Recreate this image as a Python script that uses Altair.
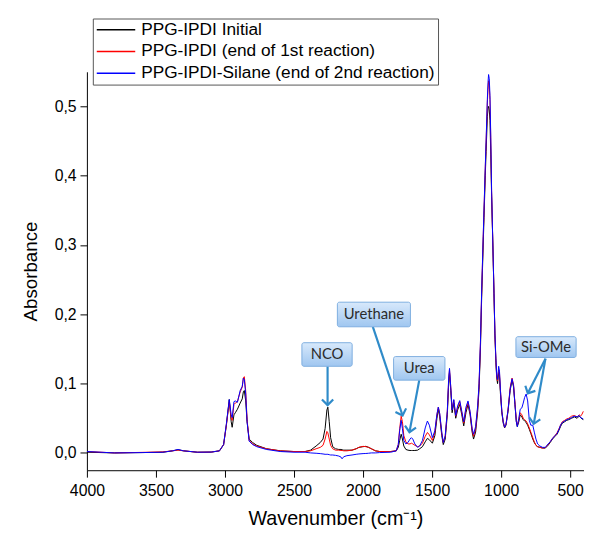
import math
import altair as alt
import pandas as pd

# ---------------- data ----------------
SERIES = ["PPG-IPDI Initial", "PPG-IPDI (end of 1st reaction)", "PPG-IPDI-Silane (end of 2nd reaction)"]
COLORS = ["#000000", "#ff0000", "#0000ff"]

WN = [4000, 3800, 3600, 3450, 3380, 3340, 3300, 3200, 3100, 3040, 3010, 2990, 2969, 2955, 2948, 2935,
      2925, 2910, 2890, 2875, 2867, 2860, 2850, 2840, 2825, 2800, 2770, 2700, 2600, 2500, 2420, 2380,
      2340, 2310, 2290, 2275, 2262, 2255, 2245, 2235, 2220, 2200, 2176, 2160, 2152, 2140, 2117, 2080,
      2050, 2030, 2000, 1980, 1960, 1940, 1910, 1880, 1800, 1760, 1745, 1735, 1724, 1715, 1705, 1690,
      1675, 1660, 1650, 1640, 1625, 1605, 1590, 1570, 1550, 1534, 1520, 1498, 1480, 1465, 1455, 1445,
      1430, 1419, 1405, 1390, 1380, 1374, 1365, 1355, 1343, 1329, 1315, 1300, 1285, 1271, 1255, 1240,
      1225, 1210, 1200, 1185, 1170, 1160, 1150, 1141, 1130, 1124, 1115, 1109, 1100, 1095, 1091, 1086,
      1081, 1075, 1069, 1060, 1052, 1045, 1038, 1032, 1026, 1018, 1012, 1005, 995, 985, 975, 965,
      950, 935, 921, 910, 900, 890, 883, 872, 862, 850, 840, 830, 819, 808, 796, 785,
      771, 760, 748, 736, 720, 700, 680, 660, 645, 628, 610, 595, 581, 570, 557, 540,
      525, 510, 490, 470, 450, 435, 425, 414, 405]

INITIAL = [0.001, 0.000, 0.0005, 0.001, 0.003, 0.0045, 0.003, 0.001, 0.0012, 0.003, 0.012, 0.04, 0.077, 0.045, 0.037, 0.055,
           0.058, 0.063, 0.072, 0.078, 0.088, 0.09, 0.075, 0.045, 0.02, 0.015, 0.011, 0.006, 0.003, 0.002, 0.002, 0.004,
           0.01, 0.015, 0.02, 0.035, 0.062, 0.066, 0.045, 0.022, 0.009, 0.006, 0.005, 0.005, 0.0045, 0.004, 0.004, 0.004,
           0.006, 0.008, 0.009, 0.0095, 0.008, 0.006, 0.003, 0.002, 0.002, 0.003, 0.008, 0.018, 0.027, 0.02, 0.01, 0.005,
           0.004, 0.0035, 0.0035, 0.0035, 0.0035, 0.004, 0.006, 0.009, 0.016, 0.021, 0.019, 0.014, 0.025, 0.05, 0.063, 0.052,
           0.025, 0.012, 0.02, 0.055, 0.1, 0.116, 0.09, 0.058, 0.072, 0.05, 0.062, 0.07, 0.055, 0.039, 0.058, 0.07,
           0.055, 0.03, 0.02, 0.03, 0.06, 0.092, 0.15, 0.225, 0.3, 0.34, 0.4, 0.435, 0.485, 0.497, 0.5, 0.495,
           0.48, 0.43, 0.37, 0.3, 0.23, 0.17, 0.13, 0.108, 0.1, 0.116, 0.11, 0.085, 0.058, 0.043, 0.036, 0.04,
           0.06, 0.09, 0.105, 0.095, 0.07, 0.045, 0.038, 0.045, 0.055, 0.052, 0.048, 0.046, 0.044, 0.04, 0.034, 0.028,
           0.02, 0.015, 0.011, 0.009, 0.008, 0.007, 0.007, 0.011, 0.015, 0.02, 0.024, 0.027, 0.033, 0.038, 0.043, 0.045,
           0.047, 0.048, 0.05, 0.052, 0.05, 0.053, 0.051, 0.049, 0.048]

FIRST = [0.002, 0.000, 0.0008, 0.0015, 0.003, 0.004, 0.003, 0.001, 0.0012, 0.003, 0.012, 0.04, 0.074, 0.05, 0.047, 0.07,
         0.072, 0.074, 0.088, 0.095, 0.108, 0.11, 0.09, 0.048, 0.018, 0.013, 0.01, 0.006, 0.003, 0.002, 0.002, 0.003,
         0.006, 0.008, 0.011, 0.02, 0.031, 0.029, 0.02, 0.011, 0.006, 0.004, 0.004, 0.0035, 0.0035, 0.003, 0.003, 0.004,
         0.006, 0.008, 0.0095, 0.009, 0.008, 0.006, 0.003, 0.002, 0.002, 0.003, 0.012, 0.035, 0.053, 0.045, 0.025, 0.016,
         0.013, 0.013, 0.014, 0.013, 0.011, 0.009, 0.01, 0.014, 0.024, 0.0295, 0.026, 0.018, 0.03, 0.055, 0.066, 0.056,
         0.028, 0.015, 0.024, 0.06, 0.105, 0.12, 0.095, 0.062, 0.076, 0.053, 0.066, 0.074, 0.058, 0.043, 0.063, 0.073,
         0.058, 0.033, 0.024, 0.035, 0.065, 0.098, 0.158, 0.232, 0.31, 0.35, 0.41, 0.448, 0.505, 0.525, 0.537, 0.53,
         0.51, 0.45, 0.375, 0.3, 0.232, 0.17, 0.134, 0.11, 0.104, 0.12, 0.115, 0.09, 0.06, 0.045, 0.037, 0.041,
         0.062, 0.094, 0.108, 0.098, 0.072, 0.047, 0.04, 0.048, 0.058, 0.055, 0.05, 0.048, 0.046, 0.042, 0.036, 0.03,
         0.022, 0.016, 0.011, 0.009, 0.008, 0.007, 0.0075, 0.012, 0.016, 0.021, 0.025, 0.029, 0.035, 0.04, 0.045, 0.047,
         0.049, 0.05, 0.053, 0.054, 0.052, 0.055, 0.053, 0.056, 0.06]

SILANE = [0.002, 0.000, 0.0005, 0.001, 0.003, 0.005, 0.003, 0.001, 0.0012, 0.003, 0.012, 0.042, 0.077, 0.055, 0.051, 0.074,
          0.075, 0.073, 0.09, 0.096, 0.108, 0.106, 0.085, 0.045, 0.017, 0.012, 0.009, 0.005, 0.002, 0.001, 0.001, 0.0,
          -0.0005, -0.001, -0.0015, -0.002, -0.002, -0.002, -0.0025, -0.003, -0.003, -0.0035, -0.0045, -0.006, -0.0085, -0.0055, -0.004, -0.003,
          -0.002, -0.0015, -0.001, -0.0008, -0.0005, 0.0, 0.0, 0.0005, 0.001, 0.003, 0.012, 0.032, 0.047, 0.035, 0.018, 0.013,
          0.015, 0.02, 0.022, 0.02, 0.013, 0.008, 0.01, 0.018, 0.036, 0.046, 0.04, 0.022, 0.032, 0.056, 0.066, 0.057,
          0.03, 0.015, 0.025, 0.06, 0.108, 0.122, 0.095, 0.062, 0.077, 0.054, 0.068, 0.0755, 0.06, 0.045, 0.066, 0.075,
          0.06, 0.035, 0.027, 0.038, 0.068, 0.1, 0.16, 0.235, 0.312, 0.352, 0.413, 0.45, 0.51, 0.535, 0.546, 0.54,
          0.516, 0.455, 0.378, 0.3, 0.232, 0.172, 0.136, 0.112, 0.106, 0.125, 0.118, 0.09, 0.06, 0.045, 0.037, 0.041,
          0.062, 0.092, 0.107, 0.097, 0.07, 0.045, 0.038, 0.05, 0.063, 0.065, 0.072, 0.08, 0.085, 0.075, 0.047, 0.04,
          0.04, 0.03, 0.02, 0.013, 0.01, 0.008, 0.008, 0.013, 0.016, 0.021, 0.025, 0.028, 0.034, 0.04, 0.044, 0.046,
          0.048, 0.049, 0.051, 0.053, 0.052, 0.054, 0.051, 0.05, 0.049]

X_DOMAIN = [4000, 400]
Y_DOMAIN = [-0.025, 0.55]
X_TICKS = list(range(500, 4001, 250))
Y_TICKS = [round(i * 0.05, 2) for i in range(12)]

# annotation callouts (label, box extent in data units)
ANN_LABELS = ["NCO", "Urethane", "Urea", "Si-OMe"]
ANN_WN1 = [2443, 2186, 1779, 893]
ANN_WN2 = [2079, 1657, 1407, 457]
ANN_ABS1 = [0.125, 0.182, 0.105, 0.1377]
ANN_ABS2 = [0.159, 0.2175, 0.139, 0.1677]

# arrows (from box to peak)
ARR_FROM_WN = [2257, 1929, 1593, 679, 679]
ARR_FROM_ABS = [0.125, 0.182, 0.105, 0.136, 0.136]
ARR_TO_WN = [2257, 1714, 1664, 807, 764]
ARR_TO_ABS = [0.069, 0.054, 0.030, 0.086, 0.042]

# ---------------- layout ----------------
W, H = 504, 404
FONT = "Liberation Sans"
ARROW = "#2f8bc9"

rows = []
for name, vals in zip(SERIES, [INITIAL, FIRST, SILANE]):
    for w, v in zip(WN, vals):
        rows.append({"series": name, "wn": w, "abs": v})
df = pd.DataFrame(rows)

xs = alt.Scale(domain=X_DOMAIN, nice=False, zero=False)
ys = alt.Scale(domain=Y_DOMAIN, nice=False, zero=False)

XT = "Wavenumber (cm\u207b\u00b9)"
YT = "Absorbance"

x_axis = alt.Axis(
    values=X_TICKS, format="d", title=XT, labelFlush=False,
    labelExpr="datum.value % 500 === 0 ? datum.label : ''",
    tickSize={"condition": {"test": "datum.value % 500 === 0", "value": 7}, "value": 4},
    labelPadding=6, titlePadding=10, grid=False,
)
y_axis = alt.Axis(
    values=Y_TICKS, title=YT, labelFlush=False,
    labelExpr="abs(datum.value*10 - round(datum.value*10)) < 0.001 ? replace(format(datum.value, '.1f'), '.', ',') : ''",
    tickSize={"condition": {"test": "abs(datum.value*10 - round(datum.value*10)) < 0.001", "value": 7}, "value": 4},
    labelPadding=4, titlePadding=14, grid=False,
)

lines = alt.Chart(df).mark_line(strokeWidth=1, clip=True).encode(
    x=alt.X("wn:Q", scale=xs, axis=x_axis),
    y=alt.Y("abs:Q", scale=ys, axis=y_axis),
    color=alt.Color(
        "series:N",
        scale=alt.Scale(domain=SERIES, range=COLORS),
        legend=alt.Legend(
            orient="none", legendX=6, legendY=-54, title=None,
            symbolType="stroke", symbolSize=1521, symbolStrokeWidth=1.5,
            clipHeight=17, labelFontSize=17.5, labelFont=FONT, labelColor="#000000",
            labelOffset=5, padding=3, rowPadding=4, labelLimit=500,
            fillColor="#ffffff", strokeColor="#555555",
        ),
    ),
    detail="series:N",
)

PX_WN = W / (X_DOMAIN[0] - X_DOMAIN[1])
PX_ABS = H / (Y_DOMAIN[1] - Y_DOMAIN[0])
angles = []
for a, b, c, d in zip(ARR_FROM_WN, ARR_FROM_ABS, ARR_TO_WN, ARR_TO_ABS):
    dx = -(c - a) * PX_WN
    dy = -(d - b) * PX_ABS
    angles.append(math.degrees(math.atan2(dx, -dy)) % 360)

arr_df = pd.DataFrame({"wn": ARR_FROM_WN, "abs": ARR_FROM_ABS, "wn2": ARR_TO_WN, "abs2": ARR_TO_ABS,
                       "angle": angles})
ann_df = pd.DataFrame({"label": ANN_LABELS, "wn": ANN_WN1, "wn2": ANN_WN2, "abs": ANN_ABS1, "abs2": ANN_ABS2})
ann_df["cx"] = (ann_df["wn"] + ann_df["wn2"]) / 2
ann_df["cy"] = (ann_df["abs"] + ann_df["abs2"]) / 2

shafts = alt.Chart(arr_df).mark_rule(color=ARROW, strokeWidth=2.2).encode(
    x=alt.X("wn:Q", scale=xs, title=XT), y=alt.Y("abs:Q", scale=ys, title=YT),
    x2="wn2:Q", y2="abs2:Q",
)
heads = alt.Chart(arr_df).mark_point(
    shape="M-1,1L0,0L1,1", size=130, filled=False, strokeWidth=2.2, color=ARROW, opacity=1,
).encode(
    x=alt.X("wn2:Q", scale=xs, title=XT), y=alt.Y("abs2:Q", scale=ys, title=YT),
    angle=alt.Angle("angle:Q", scale=None),
)
boxes = alt.Chart(ann_df).mark_rect(
    fill={"gradient": "linear", "x1": 0, "y1": 0, "x2": 0, "y2": 1,
          "stops": [{"offset": 0, "color": "#d8e9fb"}, {"offset": 1, "color": "#9fc6f0"}]},
    stroke="#7eaedf", strokeWidth=1, cornerRadius=2,
).encode(
    x=alt.X("wn:Q", scale=xs, title=XT), x2="wn2:Q",
    y=alt.Y("abs:Q", scale=ys, title=YT), y2="abs2:Q",
)
texts = alt.Chart(ann_df).mark_text(font="Lato", fontSize=15, color="#2b2b2b").encode(
    x=alt.X("cx:Q", scale=xs, title=XT), y=alt.Y("cy:Q", scale=ys, title=YT), text="label:N",
)

chart = alt.layer(lines, shafts, heads, boxes, texts).properties(
    width=W, height=H,
    padding={"left": 80, "top": 61, "right": 0, "bottom": 62},
    autosize=alt.AutoSizeParams(type="none"),
    background="#ffffff",
).configure_view(stroke=None).configure_axis(
    domainColor="#000000", domainWidth=1, tickColor="#000000", tickWidth=1,
    labelFont=FONT, labelFontSize=16, labelColor="#000000",
    titleFont=FONT, titleFontSize=20, titleColor="#000000", titleFontWeight="normal",
).configure_axisY(titleFontSize=19)

chart.save("out.html", embed_options={"renderer": "svg", "actions": False})
